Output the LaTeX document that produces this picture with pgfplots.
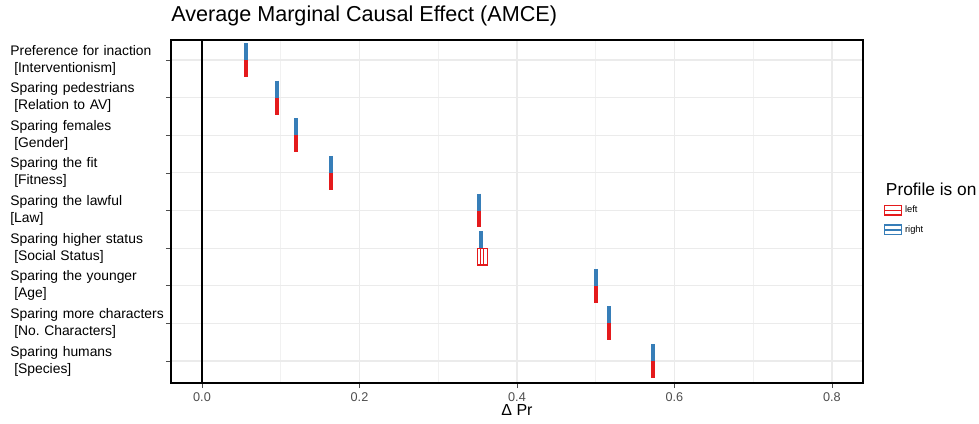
\documentclass[border=0pt]{standalone}
\usepackage{fontspec}
\setmainfont{Liberation Sans}
\usepackage{pgfplots}
\usepackage{pgfplotstable}
\pgfplotsset{compat=1.18}
\definecolor{cred}{HTML}{E41A1C}
\definecolor{cblue}{HTML}{377EB8}
\definecolor{gridc}{HTML}{EBEBEB}
\definecolor{tickc}{HTML}{4D4D4D}

% blue half: profile on the right (category-0.45 .. category)
\pgfplotstableread{
x y
0.056 0.55
0.056 1
nan nan
0.095 1.55
0.095 2
nan nan
0.119 2.55
0.119 3
nan nan
0.164 3.55
0.164 4
nan nan
0.352 4.55
0.352 5
nan nan
0.354 5.55
0.354 6
nan nan
0.500 6.55
0.500 7
nan nan
0.517 7.55
0.517 8
nan nan
0.573 8.55
0.573 9
}\bluebars

% red half: profile on the left (category .. category+0.45)
\pgfplotstableread{
x y
0.056 1
0.056 1.45
nan nan
0.095 2
0.095 2.45
nan nan
0.119 3
0.119 3.45
nan nan
0.164 4
0.164 4.45
nan nan
0.352 5
0.352 5.45
nan nan
0.500 7
0.500 7.45
nan nan
0.517 8
0.517 8.45
nan nan
0.573 9
0.573 9.45
}\redbars

\begin{document}
\begin{tikzpicture}
\begin{axis}[
  width=519pt, height=257.25pt, scale only axis,
  xmin=-0.03937, xmax=0.8394,
  ymin=0.468, ymax=9.585, y dir=reverse,
  xtick={0,0.2,0.4,0.6,0.8},
  minor xtick={0.1,0.3,0.5,0.7},
  ytick={1,2,3,4,5,6,7,8,9},
  yticklabels={
    {Preference for inaction\\\hspace*{2.9pt}[Interventionism]},
    {Sparing pedestrians\\\hspace*{2.9pt}[Relation to AV]},
    {Sparing females\\\hspace*{2.9pt}[Gender]},
    {Sparing the fit\\\hspace*{2.9pt}[Fitness]},
    {Sparing the lawful\\{}[Law]},
    {Sparing higher status\\\hspace*{2.9pt}[Social Status]},
    {Sparing the younger\\\hspace*{2.9pt}[Age]},
    {Sparing more characters\\\hspace*{2.9pt}[No.\ Characters]},
    {Sparing humans\\\hspace*{2.9pt}[Species]}},
  xmajorgrids, xminorgrids, ymajorgrids,
  major grid style={gridc, line width=0.8pt},
  minor grid style={gridc!70!white, line width=0.5pt},
  axis line style={black, line width=1.4pt},
  tick align=outside,
  major tick length=3.75pt, minor tick length=0pt,
  tick style={tickc, line width=0.5pt},
  xtick pos=bottom, ytick pos=left,
  xticklabel style={font=\fontsize{9.5}{11}\selectfont, text=tickc,
    /pgf/number format/fixed, /pgf/number format/fixed zerofill,
    /pgf/number format/precision=1, /pgf/number format/assume math mode=true},
  yticklabel style={font=\fontsize{10.4}{12.75}\selectfont, align=left,
    text width=116pt, inner sep=0pt, xshift=-0.5pt},
  xlabel={Δ Pr},
  xlabel style={font=\fontsize{12}{14}\selectfont, at={(rel axis cs:0.5,0)},
    anchor=base, yshift=-24.5pt},
  title={Average Marginal Causal Effect (AMCE)},
  title style={font=\fontsize{16.2}{19}\selectfont, at={(rel axis cs:0,1)},
    anchor=base west, yshift=8pt, inner sep=0pt},
  unbounded coords=jump,
  legend image code/.code={
    \draw[line width=1.1pt] (0pt,-3.5pt) rectangle (12.75pt,3.5pt);
    \draw[line width=1.1pt] (0pt,0pt) -- (12.75pt,0pt);},
  legend style={draw=none, fill=none, at={(rel axis cs:1,0.5246)},
    anchor=north west, xshift=15.5pt, inner sep=0pt, row sep=4pt,
    font=\fontsize{7}{8}\selectfont,
    nodes={inner sep=2pt}},
  legend cell align=left,
]
\addplot[cblue, line width=3.3pt, forget plot] table[x=x, y=y] {\bluebars};
\addplot[cred, line width=3.3pt, forget plot] table[x=x, y=y] {\redbars};
% Social Status, left profile: hollow crossbar
\addplot[cred, line width=0.9pt, forget plot] coordinates
  {(0.3496,6) (0.3623,6) (0.3623,6.45) (0.3496,6.45) (0.3496,6)};
\addplot[cred, line width=0.7pt, forget plot] coordinates
  {(0.3541,6) (0.3541,6.45)};
\addplot[cred, line width=0.7pt, forget plot] coordinates
  {(0.3580,6) (0.3580,6.45)};
% zero reference line
\addplot[black, line width=1.1pt, forget plot] coordinates {(0,0.468) (0,9.585)};
\addlegendimage{cred}
\addlegendentry{left}
\addlegendimage{cblue}
\addlegendentry{right}
\end{axis}
\node[anchor=base west, inner sep=0pt, font=\fontsize{13}{15}\selectfont]
  at ([xshift=17pt,yshift=-116.25pt]current axis.north east) {Profile is on};
\pgfresetboundingbox
\path ([xshift=-128.25pt,yshift=-30pt]current axis.south west)
  rectangle ([xshift=87pt,yshift=30pt]current axis.north east);
\end{tikzpicture}
\end{document}
